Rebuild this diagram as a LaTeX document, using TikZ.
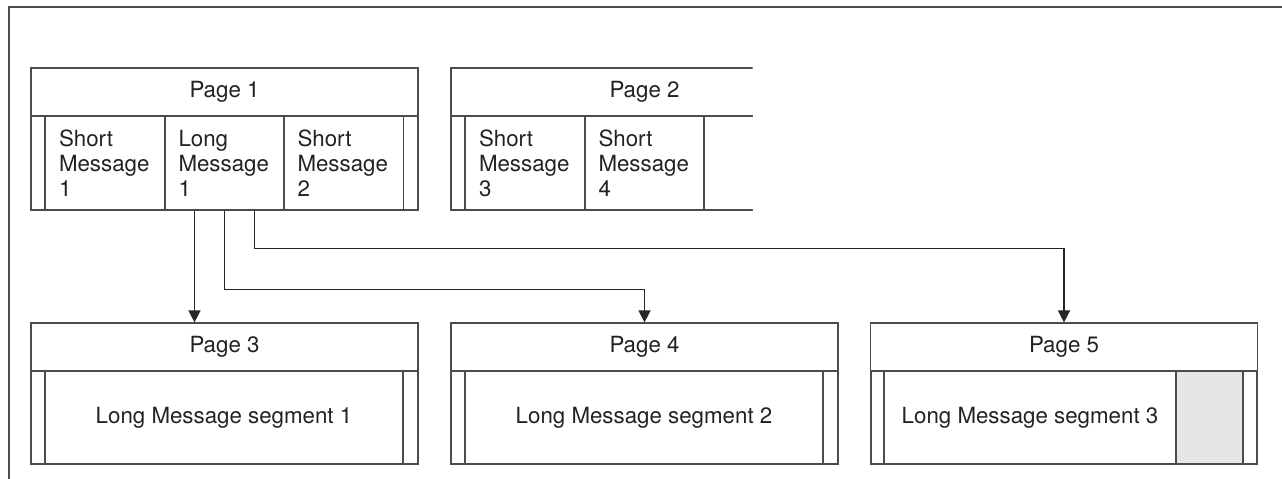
\documentclass[tikz,border=0pt]{standalone}
\usepackage{fontspec}
\setmainfont{TeX Gyre Heros}
\usetikzlibrary{arrows.meta}
\definecolor{lightshade}{RGB}{229,230,232}
\definecolor{inktext}{RGB}{34,34,34}
\tikzset{
  box/.style={draw=black!70, line width=1.2pt},
  head/.style={box, minimum width=387pt, minimum height=48pt, inner sep=0pt, text=inktext},
  cell/.style={box, minimum width=120pt, minimum height=94pt, text width=92pt, inner xsep=14pt, inner ysep=0pt, align=left, text=inktext},
  body/.style={box, minimum height=93pt, inner sep=0pt, text=inktext},
  link/.style={draw=black!85, line width=1.4pt, -{Triangle[length=12pt,width=12pt]}},
  frame/.style={draw=black!70, line width=1.6pt},
}
\begin{document}
\begin{tikzpicture}[x=1pt,y=-1pt]
                    \useasboundingbox (0,0) rectangle (1282,479);
                    {\fontsize{22.3}{25}\selectfont

                    % Drawing outer frame
                    \draw [frame] (1282,7) -- (9,7) -- (9,479);%

                    % Drawing page 1
                    \node [head] (pg1) at (224.5,92) {Page 1};%
                    \draw [box] (31,116) rectangle (418,210);%
                    \node [cell] (short1) at (105,163) {Short\\Message\\1};%
                    \node [cell] (long1) at (224.5,163) {Long\\Message\\1};%
                    \node [cell] (short2) at (343.5,163) {Short\\Message\\2};%

                    % Drawing page 2 (cut at right)
                    \begin{scope}
                    \clip (440,60) rectangle (752.5,220);
                    \node [head] (pg2) at (644.5,92) {Page 2};%
                    \draw [box] (451,116) rectangle (838,210);%
                    \node [cell] (short3) at (525,163) {Short\\Message\\3};%
                    \node [cell] (short4) at (644.5,163) {Short\\Message\\4};%
                    \node [cell] (spare) at (763.5,163) {};%
                    \end{scope}

                    % Drawing page 3
                    \node [head] (pg3) at (224.5,347) {Page 3};%
                    \draw [box] (31,371) rectangle (418,464);%
                    \node [body, minimum width=358pt] (seg1) at (224,417.5) {Long Message segment 1};%

                    % Drawing page 4
                    \node [head] (pg4) at (644.5,347) {Page 4};%
                    \draw [box] (451,371) rectangle (838,464);%
                    \node [body, minimum width=358pt] (seg2) at (644,417.5) {Long Message segment 2};%

                    % Drawing page 5
                    \node [head] (pg5) at (1064,347) {Page 5};%
                    \draw [box] (871,371) rectangle (1257,464);%
                    \node [body, minimum width=292pt] (seg3) at (1030,417.5) {Long Message segment 3};%
                    \node [body, minimum width=67pt, fill=lightshade] (unused) at (1209.5,417.5) {};%

                    % Drawing links from long message 1
                    \draw [link] ([xshift=-30pt]long1.south) -- ([xshift=-30pt]long1.south |- pg3.north);%
                    \draw [link] (long1.south) -- ++(0,79) -| (pg4.north);%
                    \draw [link] ([xshift=30pt]long1.south) -- ++(0,38) -| (pg5.north);%
                    }
\end{tikzpicture}
\end{document}
